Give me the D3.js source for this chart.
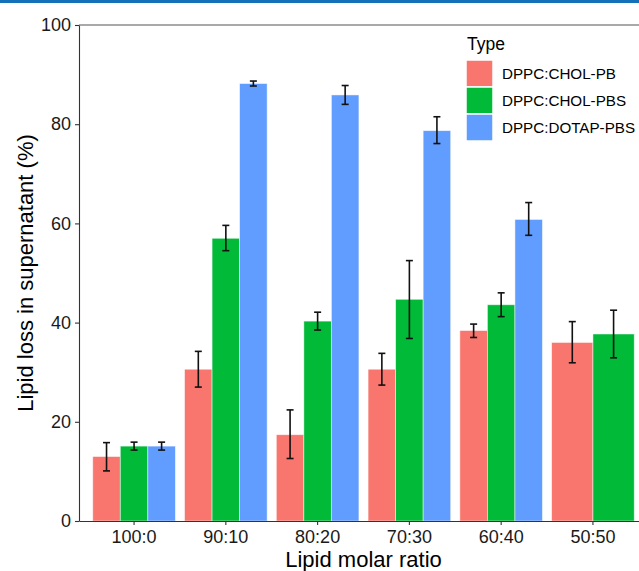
<!DOCTYPE html>
<html>
<head>
  <script src="https://d3js.org/d3.v7.min.js"></script>
  <style>
    html, body {
      margin: 0px;
      padding: 0px;
      background: #fff;
      font-family: "Liberation Sans", Arial, Helvetica, sans-serif;
    }
    #chart { width: 639px; height: 571px; overflow: hidden; }
    .axis text { font-size: 18px; fill: #1a1a1a; }
    .axis path, .axis line { stroke: #333; stroke-width: 1.1; }
    .axisLabel { font-size: 22px; fill: #000; }
    .legend text { fill: #000; }
  </style>
</head>
<body>
  <div id="chart"></div>
  <script>
    // data
    const ratios = ["100:0", "90:10", "80:20", "70:30", "60:40", "50:50"];
    const types = ["DPPC:CHOL-PB", "DPPC:CHOL-PBS", "DPPC:DOTAP-PBS"];
    const colors = ["#F8766D", "#00BA38", "#619CFF"];

    // mean, low, high for each ratio (null = no bar)
    const cholPB = [[13.0, 10.1, 15.8], [30.6, 27.0, 34.2], [17.4, 12.6, 22.4], [30.6, 27.4, 33.8], [38.4, 37.0, 39.7], [36.0, 31.9, 40.2]];
    const cholPBS = [[15.1, 14.3, 15.9], [57.0, 54.5, 59.6], [40.3, 38.5, 42.1], [44.7, 36.8, 52.5], [43.6, 41.2, 46.0], [37.7, 32.9, 42.5]];
    const dotapPBS = [[15.1, 14.3, 15.9], [88.2, 87.7, 88.7], [85.9, 84.0, 87.8], [78.7, 76.1, 81.5], [60.8, 57.6, 64.2], null];
    const series = [cholPB, cholPBS, dotapPBS];

    const yTicks = [0, 20, 40, 60, 80, 100];

    const width = 639, height = 571;
    const margin = {top: 25, left: 79, bottom: 50};
    const panelRight = 648;

    const svg = d3.select("#chart").append("svg")
      .attr("width", width)
      .attr("height", height);

    // blue strip at the very top
    svg.append("rect")
      .attr("x", 0).attr("y", 0)
      .attr("width", width).attr("height", 3)
      .attr("fill", "#1470b8");

    // ggplot-like discrete axis: 0.6 step of space at both ends
    const xScale = d3.scaleBand()
      .domain(ratios)
      .range([margin.left, panelRight])
      .paddingInner(0)
      .paddingOuter(0.1);

    const yScale = d3.scaleLinear()
      .domain([0, 100])
      .range([height - margin.bottom, margin.top]);

    // build bars, dodged like ggplot (width 0.9 split among the bars present)
    const bars = [];
    ratios.forEach(function(r, i) {
      const present = [];
      series.forEach(function(s, k) { if (s[i]) present.push(k); });
      const groupW = xScale.step() * 0.9;
      const bw = groupW / present.length;
      const x0 = xScale(r) + xScale.step() / 2 - groupW / 2;
      present.forEach(function(k, j) {
        bars.push({ratio: r, type: k, x: x0 + j * bw, w: bw,
                   v: series[k][i][0], lo: series[k][i][1], hi: series[k][i][2]});
      });
    });

    svg.append("g").selectAll("rect")
      .data(bars)
      .join("rect")
        .attr("x", function(d) { return d.x; })
        .attr("width", function(d) { return d.w; })
        .attr("y", function(d) { return yScale(d.v); })
        .attr("height", function(d) { return yScale(0) - yScale(d.v); })
        .attr("fill", function(d) { return colors[d.type]; })
        .attr("stroke", "rgba(255,255,255,0.6)")
        .attr("stroke-width", 0.8);

    // error bars
    const err = svg.append("g").selectAll("g")
      .data(bars)
      .join("g")
        .attr("stroke", "#111")
        .attr("stroke-width", 1.6);
    err.append("line")
      .attr("x1", function(d) { return d.x + d.w / 2; })
      .attr("x2", function(d) { return d.x + d.w / 2; })
      .attr("y1", function(d) { return yScale(d.lo); })
      .attr("y2", function(d) { return yScale(d.hi); });
    err.append("line")
      .attr("x1", function(d) { return d.x + d.w / 2 - 3.5; })
      .attr("x2", function(d) { return d.x + d.w / 2 + 3.5; })
      .attr("y1", function(d) { return yScale(d.hi); })
      .attr("y2", function(d) { return yScale(d.hi); });
    err.append("line")
      .attr("x1", function(d) { return d.x + d.w / 2 - 3.5; })
      .attr("x2", function(d) { return d.x + d.w / 2 + 3.5; })
      .attr("y1", function(d) { return yScale(d.lo); })
      .attr("y2", function(d) { return yScale(d.lo); });

    // top border of panel
    svg.append("line")
      .attr("x1", margin.left).attr("x2", panelRight)
      .attr("y1", margin.top).attr("y2", margin.top)
      .attr("stroke", "#555").attr("stroke-width", 1.1);

    // axes
    svg.append("g")
      .attr("class", "axis")
      .attr("transform", `translate(0,${yScale(0)})`)
      .call(d3.axisBottom(xScale).tickSize(4).tickSizeOuter(0).tickPadding(5));

    svg.append("g")
      .attr("class", "axis")
      .attr("transform", `translate(${margin.left},0)`)
      .call(d3.axisLeft(yScale).tickValues(yTicks).tickSize(4).tickSizeOuter(0).tickPadding(4));

    // axis titles
    svg.append("text")
      .attr("class", "axisLabel")
      .attr("x", (margin.left + panelRight) / 2)
      .attr("y", 566.5)
      .attr("font-size", 20)
      .attr("text-anchor", "middle")
      .text("Lipid molar ratio");

    svg.append("text")
      .attr("class", "axisLabel")
      .attr("transform", "rotate(-90)")
      .attr("x", -yScale(50))
      .attr("y", 33)
      .attr("text-anchor", "middle")
      .text("Lipid loss in supernatant (%)");

    // legend
    const legend = svg.append("g").attr("class", "legend");
    legend.append("text")
      .attr("x", 467).attr("y", 50)
      .attr("font-size", 17.5)
      .text("Type");
    const items = legend.selectAll("g.item")
      .data(types)
      .join("g")
        .attr("class", "item")
        .attr("transform", function(d, i) { return `translate(466,${60 + i * 27})`; });
    items.append("rect")
      .attr("width", 27).attr("height", 27)
      .attr("fill", function(d, i) { return colors[i]; })
      .attr("stroke", "#fff")
      .attr("stroke-width", 1.5);
    items.append("text")
      .attr("x", 36).attr("y", 19)
      .attr("font-size", 15.2)
      .text(function(d) { return d; });
  </script>
</body>
</html>
